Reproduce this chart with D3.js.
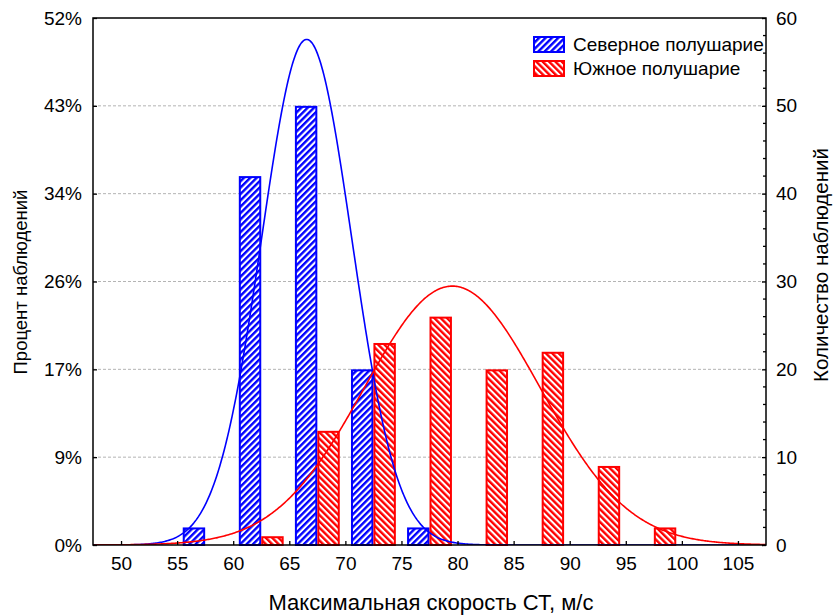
<!DOCTYPE html>
<html>
<head>
<meta charset="utf-8">
<script src="https://cdn.jsdelivr.net/npm/d3@7"></script>
<style>
  html, body { margin: 0; padding: 0; background: #fff; }
  svg { display: block; font-family: "Liberation Sans", Arial, sans-serif; }
</style>
</head>
<body>
<svg id="chart" width="834" height="616"></svg>
<script>
// Histogram bins (lower edge of each 5 m/s bin)
const binStarts = [55, 60, 65, 70, 75, 80, 85, 90, 95];
const binWidth = 5;
// Counts per bin
const northCounts = [2, 42, 50, 20, 2, 0, 0, 0, 0];
const southCounts = [0, 1, 13, 23, 26, 20, 22, 9, 2];
const seriesNames = ["Северное полушарие", "Южное полушарие"];
// Fitted normal curves: mean and standard deviation
const northFit = [66.55, 4.02];
const southFit = [79.53, 7.85];
const totalN = 116;
// Axis ticks
const xTicks = [50, 55, 60, 65, 70, 75, 80, 85, 90, 95, 100, 105];
const countTicks = [0, 10, 20, 30, 40, 50, 60];
const percentLabels = ["0%", "9%", "17%", "26%", "34%", "43%", "52%"];

const svg = d3.select("#chart");
const L = 93, R = 766, T = 18, B = 545;
const x = d3.scaleLinear().domain([47.5, 107.5]).range([L, R]);
const y = d3.scaleLinear().domain([0, 60]).range([B, T]);

const blue = "#0000ff", red = "#ff0000";
const FONT = "Liberation Sans, Arial, sans-serif";

// Hatch patterns
const defs = svg.append("defs");
function hatch(id, color, angle) {
  const p = defs.append("pattern")
    .attr("id", id).attr("patternUnits", "userSpaceOnUse")
    .attr("width", 4.5).attr("height", 4.5)
    .attr("patternTransform", `rotate(${angle})`);
  p.append("rect").attr("width", 4.5).attr("height", 4.5).attr("fill", "#fff");
  p.append("rect").attr("width", 2.4).attr("height", 4.5).attr("fill", color);
}
hatch("hatchN", blue, 45);
hatch("hatchS", red, -45);
defs.append("clipPath").attr("id", "plotClip")
  .append("rect").attr("x", L).attr("y", T).attr("width", R - L).attr("height", B - T);

// Grid lines
svg.append("g").selectAll("line").data(countTicks.filter(d => d > 0 && d < 60)).join("line")
  .attr("x1", L).attr("x2", R).attr("y1", d => y(d)).attr("y2", d => y(d))
  .attr("stroke", "#b4b4b4").attr("stroke-width", 1).attr("stroke-dasharray", "3,2");

// Bars
const bars = svg.append("g");
function drawBars(counts, offset, fill, stroke) {
  const data = binStarts.map((s, i) => ({ s, c: counts[i] })).filter(d => d.c > 0);
  bars.append("g").selectAll("rect").data(data).join("rect")
    .attr("x", d => x(d.s + offset) + 1)
    .attr("width", d => x(d.s + offset + 2) - x(d.s + offset) - 2)
    .attr("y", d => y(d.c) + 1)
    .attr("height", d => y(0) - y(d.c) - 1)
    .attr("fill", fill).attr("stroke", stroke).attr("stroke-width", 2);
}
drawBars(northCounts, 0.5, "url(#hatchN)", blue);
drawBars(southCounts, 2.5, "url(#hatchS)", red);

// Normal curves scaled to counts per bin
function curve(fit, color) {
  const [m, s] = fit;
  const pts = d3.range(47.5, 107.51, 0.1).map(v => [v,
    totalN * binWidth * Math.exp(-0.5 * ((v - m) / s) ** 2) / (s * Math.sqrt(2 * Math.PI))]);
  svg.append("path").datum(pts)
    .attr("clip-path", "url(#plotClip)")
    .attr("d", d3.line().x(d => x(d[0])).y(d => y(d[1])))
    .attr("fill", "none").attr("stroke", color).attr("stroke-width", 1.6);
}
curve(northFit, blue);
curve(southFit, red);

// Frame
svg.append("rect").attr("x", L).attr("y", T).attr("width", R - L).attr("height", B - T)
  .attr("fill", "none").attr("stroke", "#000").attr("stroke-width", 1.5);

const fontSize = 19;
function styleAxis(g) {
  g.select(".domain").remove();
  g.selectAll("line").attr("stroke", "#000").attr("stroke-width", 1.3);
  g.selectAll("text").attr("font-size", fontSize).attr("fill", "#000").attr("font-family", FONT);
}
// X axis
svg.append("g").attr("transform", `translate(0,${B})`)
  .call(d3.axisBottom(x).tickValues(xTicks).tickSizeInner(-4).tickSizeOuter(0).tickPadding(12))
  .call(styleAxis);

// Left axis (percent)
svg.append("g").attr("transform", `translate(${L},0)`)
  .call(d3.axisLeft(y).tickValues(countTicks).tickFormat((d, i) => percentLabels[i])
    .tickSizeInner(-4).tickSizeOuter(0).tickPadding(11))
  .call(styleAxis);

// Right axis (counts) with minor ticks
svg.append("g").attr("transform", `translate(${R},0)`)
  .call(d3.axisRight(y).tickValues(countTicks).tickSizeInner(-4).tickSizeOuter(0).tickPadding(10))
  .call(styleAxis);
svg.append("g").selectAll("line").data(d3.range(2, 60, 2).filter(d => d % 10 !== 0)).join("line")
  .attr("x1", R - 3).attr("x2", R).attr("y1", d => y(d)).attr("y2", d => y(d))
  .attr("stroke", "#000").attr("stroke-width", 1.3);

// Axis titles
svg.append("text").attr("x", 431).attr("y", 610).attr("text-anchor", "middle")
  .attr("font-size", 22).text("Максимальная скорость СТ, м/с");
svg.append("text").attr("transform", "translate(27,282) rotate(-90)")
  .attr("text-anchor", "middle").attr("font-size", 18.5).text("Процент наблюдений");
svg.append("text").attr("transform", "translate(828,265) rotate(-90)")
  .attr("text-anchor", "middle").attr("font-size", 20.5).text("Количество наблюдений");

// Legend
const legend = svg.append("g").attr("transform", "translate(533,36)");
[["url(#hatchN)", blue], ["url(#hatchS)", red]].forEach(([fill, stroke], i) => {
  const g = legend.append("g").attr("transform", `translate(0,${i * 24})`);
  g.append("rect").attr("x", 1).attr("y", 1).attr("width", 30).attr("height", 15)
    .attr("fill", fill).attr("stroke", stroke).attr("stroke-width", 2);
  g.append("text").attr("x", 40).attr("y", 15).attr("font-size", 19).text(seriesNames[i]);
});
</script>
</body>
</html>
